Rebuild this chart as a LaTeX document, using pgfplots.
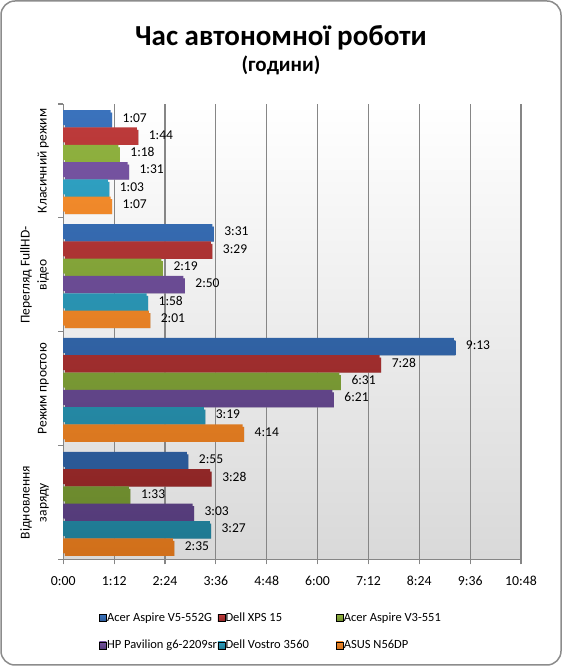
\documentclass[border=0pt]{standalone}
\usepackage{fontspec}
\setmainfont{Carlito}
\usepackage{pgfplots}
\pgfplotsset{compat=1.18}
\definecolor{gridc}{HTML}{868686}
\definecolor{framec}{HTML}{8C8C8C}
\definecolor{c1t}{HTML}{3A72BC}\definecolor{c1b}{HTML}{2B5996}
\definecolor{c2t}{HTML}{BC3A3A}\definecolor{c2b}{HTML}{8E2626}
\definecolor{c3t}{HTML}{8EB03E}\definecolor{c3b}{HTML}{6C8A2E}
\definecolor{c4t}{HTML}{7553A0}\definecolor{c4b}{HTML}{553C7A}
\definecolor{c5t}{HTML}{2E9FC0}\definecolor{c5b}{HTML}{1F7A93}
\definecolor{c6t}{HTML}{F0892A}\definecolor{c6b}{HTML}{D1701B}
\pgfplotstableread{
x y l
67 3 1:07
211 2 3:31
553 1 9:13
175 0 2:55
}\sA
\pgfplotstableread{
x y l
104 3 1:44
209 2 3:29
448 1 7:28
208 0 3:28
}\sB
\pgfplotstableread{
x y l
78 3 1:18
139 2 2:19
391 1 6:31
93 0 1:33
}\sC
\pgfplotstableread{
x y l
91 3 1:31
170 2 2:50
381 1 6:21
183 0 3:03
}\sD
\pgfplotstableread{
x y l
63 3 1:03
118 2 1:58
199 1 3:19
207 0 3:27
}\sE
\pgfplotstableread{
x y l
67 3 1:07
121 2 2:01
254 1 4:14
155 0 2:35
}\sF
\tikzset{barsh/.style={preaction={fill=black!28, transform canvas={xshift=1.5pt,yshift=-2.5pt}}}}
\begin{document}
\begin{tikzpicture}
\useasboundingbox (0pt,0pt) rectangle (562pt,666pt);
\draw[draw=framec, line width=1.5pt, rounded corners=14pt, fill=white] (1pt,1pt) rectangle (561pt,665pt);
\node[font=\fontsize{29}{34}\selectfont\bfseries, anchor=base] at (281pt,620pt) {Час автономної роботи};
\node[font=\fontsize{21}{24}\selectfont\bfseries, anchor=base] at (281pt,594pt) {(години)};
\begin{axis}[
  at={(63.3pt,106.5pt)}, anchor=south west,
  scale only axis, width=457.7pt, height=455.5pt,
  xbar, bar width=15pt,
  xmin=0, xmax=648, ymin=-0.5, ymax=3.5,
  axis x line*=bottom, axis y line*=left,
  axis line style={-, draw=gridc, line width=1.2pt},
  axis background/.style={top color=white, bottom color=black!15},
  xtick={0,72,...,648},
  xticklabels={0:00,1:12,2:24,3:36,4:48,6:00,7:12,8:24,9:36,10:48},
  xmajorgrids, grid style={draw=gridc, line width=1.2pt},
  tick align=outside, major tick length=5pt,
  tick style={draw=gridc, line width=1.2pt},
  ytick={-0.5,0.5,1.5,2.5,3.5}, yticklabels={{},{},{},{},{}},
  extra y ticks={0,1,2,3},
  extra y tick labels={{Відновлення\\заряду},{Режим простою},{Перегляд FullHD-\\відео},{Класичний режим}},
  extra y tick style={major tick length=0pt, grid=none, yticklabel shift=11pt},
  yticklabel style={rotate=90, anchor=south, align=center, font=\fontsize{13.5}{17}\selectfont},
  xticklabel style={font=\fontsize{13.8}{16}\selectfont},
  xticklabel shift=8.5pt,
  every node near coord/.append style={font=\fontsize{13.5}{16}\selectfont, text=black, anchor=west, xshift=8.5pt},
  nodes near coords, point meta=explicit symbolic,
  clip=false,
  legend image code/.code={\fill[#1] (0pt,-3.5pt) rectangle (7pt,3.5pt);},
  legend columns=3,
  legend style={at={(0.078,-0.116)}, anchor=north west, draw=none, fill=none, inner sep=0pt,
    row sep=16pt, font=\fontsize{12.5}{14}\selectfont, nodes={inner sep=0.5pt}},
  legend cell align=left,
]
\addplot[forget plot, draw=none, top color=c1t, bottom color=c1b, barsh, bar shift=43.25pt] table[x=x,y=y,meta=l]{\sA};
\addplot[forget plot, draw=none, top color=c2t, bottom color=c2b, barsh, bar shift=25.95pt] table[x=x,y=y,meta=l]{\sB};
\addplot[forget plot, draw=none, top color=c3t, bottom color=c3b, barsh, bar shift=8.65pt] table[x=x,y=y,meta=l]{\sC};
\addplot[forget plot, draw=none, top color=c4t, bottom color=c4b, barsh, bar shift=-8.65pt] table[x=x,y=y,meta=l]{\sD};
\addplot[forget plot, draw=none, top color=c5t, bottom color=c5b, barsh, bar shift=-25.95pt] table[x=x,y=y,meta=l]{\sE};
\addplot[forget plot, draw=none, top color=c6t, bottom color=c6b, barsh, bar shift=-43.25pt] table[x=x,y=y,meta=l]{\sF};
\addlegendimage{top color=c1t, bottom color=c1b}\addlegendentry{\makebox[110pt][l]{Acer Aspire V5-552G}}
\addlegendimage{top color=c2t, bottom color=c2b}\addlegendentry{\makebox[110pt][l]{Dell XPS 15}}
\addlegendimage{top color=c3t, bottom color=c3b}\addlegendentry{\makebox[110pt][l]{Acer Aspire V3-551}}
\addlegendimage{top color=c4t, bottom color=c4b}\addlegendentry{\makebox[110pt][l]{HP Pavilion g6-2209sr}}
\addlegendimage{top color=c5t, bottom color=c5b}\addlegendentry{\makebox[110pt][l]{Dell Vostro 3560}}
\addlegendimage{top color=c6t, bottom color=c6b}\addlegendentry{\makebox[110pt][l]{ASUS N56DP}}
\end{axis}
\end{tikzpicture}
\end{document}
